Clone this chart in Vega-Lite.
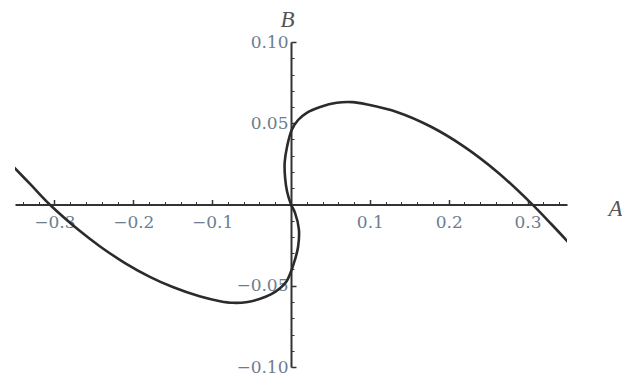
{
  "$schema": "https://vega.github.io/schema/vega-lite/v6.json",
  "width": 552,
  "height": 325,
  "autosize": {"type": "none"},
  "padding": {"left": 15, "top": 42, "right": 55, "bottom": 11},
  "background": "white",
  "config": {
    "view": {"stroke": null},
    "axis": {
      "grid": false,
      "labelFont": "DejaVu Serif",
      "labelFontSize": 17,
      "labelColor": "#6d7d8e",
      "domainColor": "#333333",
      "tickColor": "#333333",
      "titleFont": "Liberation Serif",
      "titleFontStyle": "italic",
      "titleFontWeight": "normal",
      "titleFontSize": 23,
      "titleColor": "#555555"
    }
  },
  "data": {
    "values": [
      {"i": 0, "a": -0.352, "b": 0.0232},
      {"i": 1, "a": -0.33, "b": 0.0122},
      {"i": 2, "a": -0.306, "b": 0.0},
      {"i": 3, "a": -0.268, "b": -0.0162},
      {"i": 4, "a": -0.243, "b": -0.0255},
      {"i": 5, "a": -0.21, "b": -0.0362},
      {"i": 6, "a": -0.179, "b": -0.0445},
      {"i": 7, "a": -0.15, "b": -0.0508},
      {"i": 8, "a": -0.116, "b": -0.0565},
      {"i": 9, "a": -0.09, "b": -0.0595},
      {"i": 10, "a": -0.074, "b": -0.0605},
      {"i": 11, "a": -0.055, "b": -0.06},
      {"i": 12, "a": -0.039, "b": -0.058},
      {"i": 13, "a": -0.025, "b": -0.0552},
      {"i": 14, "a": -0.014, "b": -0.0515},
      {"i": 15, "a": -0.006, "b": -0.0475},
      {"i": 16, "a": -0.001, "b": -0.0425},
      {"i": 17, "a": 0.005, "b": -0.034},
      {"i": 18, "a": 0.009, "b": -0.026},
      {"i": 19, "a": 0.01, "b": -0.0153},
      {"i": 20, "a": 0.005, "b": -0.005},
      {"i": 21, "a": 0.0, "b": 0.0},
      {"i": 22, "a": -0.005, "b": 0.008},
      {"i": 23, "a": -0.0075, "b": 0.0165},
      {"i": 24, "a": -0.008, "b": 0.026},
      {"i": 25, "a": -0.005, "b": 0.0356},
      {"i": 26, "a": 0.001, "b": 0.046},
      {"i": 27, "a": 0.009, "b": 0.052},
      {"i": 28, "a": 0.02, "b": 0.0564},
      {"i": 29, "a": 0.037, "b": 0.06},
      {"i": 30, "a": 0.058, "b": 0.0626},
      {"i": 31, "a": 0.078, "b": 0.063},
      {"i": 32, "a": 0.097, "b": 0.0615},
      {"i": 33, "a": 0.135, "b": 0.0568},
      {"i": 34, "a": 0.177, "b": 0.048},
      {"i": 35, "a": 0.219, "b": 0.0358},
      {"i": 36, "a": 0.262, "b": 0.0199},
      {"i": 37, "a": 0.304, "b": 0.001},
      {"i": 38, "a": 0.33, "b": -0.012},
      {"i": 39, "a": 0.352, "b": -0.0234}
    ]
  },
  "layer": [
    {
      "mark": {"type": "line", "interpolate": "catmull-rom", "stroke": "#2b2b2b", "strokeWidth": 2.6, "clip": true},
      "encoding": {
        "x": {
          "field": "a", "type": "quantitative",
          "scale": {"domain": [-0.35, 0.35], "nice": false, "zero": false},
          "axis": {
            "orient": "bottom", "offset": -162.5,
            "values": [-0.3, -0.2, -0.1, 0.1, 0.2, 0.3], "format": ".1f",
            "tickSize": -5, "tickWidth": 1.5, "domainWidth": 2, "labelPadding": 15,
            "title": "A", "titleX": 600, "titleY": 4, "titleAlign": "center", "titleBaseline": "middle"
          }
        },
        "y": {
          "field": "b", "type": "quantitative",
          "scale": {"domain": [-0.1, 0.1], "nice": false, "zero": false},
          "axis": {
            "orient": "left", "offset": -276,
            "values": [-0.1, -0.05, 0.05, 0.1], "format": ".2f",
            "tickSize": -5, "tickWidth": 1.5, "domainWidth": 2, "labelPadding": 8,
            "title": "B", "titleAngle": 0, "titleX": -4, "titleY": -23, "titleAlign": "center", "titleBaseline": "middle"
          }
        },
        "order": {"field": "i", "type": "quantitative"}
      }
    },
    {
      "mark": {"type": "line", "opacity": 0},
      "encoding": {
        "x": {
          "field": "a", "type": "quantitative",
          "scale": {"domain": [-0.35, 0.35], "nice": false, "zero": false},
          "axis": {
            "orient": "bottom", "offset": -162.5, "title": null, "labels": false, "domain": false,
            "values": [-0.34, -0.32, -0.28, -0.26, -0.24, -0.22, -0.18, -0.16, -0.14, -0.12, -0.08, -0.06, -0.04, -0.02, 0.02, 0.04, 0.06, 0.08, 0.12, 0.14, 0.16, 0.18, 0.22, 0.24, 0.26, 0.28, 0.32, 0.34],
            "tickSize": -3, "tickWidth": 1
          }
        },
        "y": {
          "field": "b", "type": "quantitative",
          "scale": {"domain": [-0.1, 0.1], "nice": false, "zero": false},
          "axis": {
            "orient": "left", "offset": -276, "title": null, "labels": false, "domain": false,
            "values": [-0.09, -0.08, -0.07, -0.06, -0.04, -0.03, -0.02, -0.01, 0.01, 0.02, 0.03, 0.04, 0.06, 0.07, 0.08, 0.09],
            "tickSize": -3, "tickWidth": 1
          }
        },
        "order": {"field": "i", "type": "quantitative"}
      }
    }
  ],
  "resolve": {"axis": {"x": "independent", "y": "independent"}}
}
